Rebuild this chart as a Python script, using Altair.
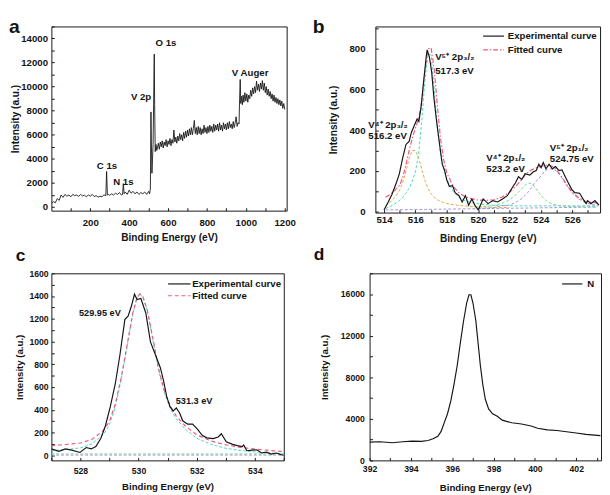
import altair as alt
import pandas as pd

FONT = "Liberation Sans"
INK = "#141414"
PINK = "#f0587a"
ORANGE = "#e4a640"
CYAN = "#43d9b8"
GREEN = "#74dc8c"
LAVENDER = "#a48ee4"

# ---------------- (a) survey spectrum: (binding energy eV, intensity a.u.) ----------------
survey_points = [
    (0, 300), (10, 450), (20, 350), (30, 700), (40, 550), (50, 1000), (60, 800), (70, 1050), (80, 900), (90, 1000),
    (100, 850), (110, 1050), (120, 950), (130, 1000), (140, 880), (150, 1050), (160, 920), (170, 980), (180, 850), (190, 1000),
    (200, 900), (210, 1050), (220, 870), (230, 950), (240, 820), (250, 900), (260, 850), (270, 1000), (280, 950), (284, 2950),
    (288, 1000), (292, 1050), (300, 980), (310, 1100), (320, 1000), (330, 1150), (340, 1050), (350, 1200), (360, 1000), (366, 1050),
    (370, 1950), (374, 1100), (380, 1250), (390, 1050), (400, 1400), (410, 1150), (420, 1300), (430, 1100), (440, 1250), (450, 1050),
    (460, 1200), (470, 1100), (480, 1250), (490, 1050), (500, 1300), (505, 1100), (509, 1500), (512, 7900), (514, 5500), (517, 2800),
    (520, 4000), (523, 5200), (526, 9000), (529, 12700), (531, 8500), (534, 4600), (538, 5200), (542, 4700),
    (545, 4900), (550, 5300), (555, 4800), (560, 5400), (565, 5000), (570, 5500), (575, 4900), (580, 5400), (585, 5100), (590, 5600),
    (595, 5000), (600, 5500), (605, 5200), (610, 5700), (615, 5100), (620, 5600), (625, 5300), (630, 6400), (635, 5400), (640, 5800),
    (645, 5300), (650, 5900), (655, 5500), (660, 6100), (665, 5600), (670, 6000), (675, 5500), (680, 6200), (685, 5700), (690, 6300),
    (695, 5800), (700, 6400), (705, 5900), (710, 6500), (715, 6000), (720, 6600), (725, 6000), (730, 6500), (735, 7200), (740, 6100),
    (745, 6600), (750, 6000), (755, 6700), (760, 6100), (765, 6600), (770, 6000), (775, 6500), (780, 6100), (785, 6800), (790, 6200),
    (795, 6600), (800, 6100), (805, 6700), (810, 6200), (815, 6800), (820, 6300), (825, 6700), (830, 6200), (835, 6900), (840, 6300),
    (845, 6800), (850, 6400), (855, 6900), (860, 6300), (865, 7000), (870, 6400), (875, 6800), (880, 6300), (885, 7000), (890, 6500),
    (895, 6900), (900, 6400), (905, 7000), (910, 6500), (915, 7100), (920, 6600), (925, 6900), (930, 6500), (935, 7100), (940, 6600),
    (945, 7000), (950, 7500), (955, 6700), (960, 7000), (965, 6900), (968, 9000), (971, 10600), (974, 8600), (978, 9200), (982, 8500),
    (986, 9300), (990, 8700), (995, 9500), (1000, 8800), (1005, 9400), (1010, 8700), (1015, 9300), (1020, 9000), (1025, 9700), (1030, 9200),
    (1035, 9900), (1040, 9400), (1045, 10000), (1050, 9500), (1055, 10450), (1060, 9700), (1065, 10200), (1070, 9600), (1075, 10300), (1080, 9800),
    (1085, 10500), (1090, 9700), (1095, 10300), (1100, 9500), (1105, 10000), (1110, 9300), (1115, 9800), (1120, 9200), (1125, 9600), (1130, 9000),
    (1135, 9400), (1140, 8800), (1145, 9300), (1150, 8700), (1155, 9100), (1160, 8600), (1165, 9000), (1170, 8500), (1175, 8900), (1180, 8400),
    (1185, 8800), (1190, 8200), (1195, 8600), (1200, 8100),
]
survey_label_text = ["O 1s", "V 2p", "V Auger", "C 1s", "N 1s"]
survey_label_energy = [589, 461, 1022, 286, 370]
survey_label_intensity = [13600, 9160, 11140, 3360, 2080]

# ---------------- (b) V 2p ----------------
v2p_experimental = [
    (514.0, 8), (514.27, 47), (514.51, 85), (514.78, 140), (514.98, 186), (515.19, 264), (515.4, 330), (515.6, 345),
    (515.75, 390), (515.91, 419), (516.11, 455), (516.22, 443), (516.36, 512), (516.52, 637), (516.69, 761), (516.75, 795),
    (516.89, 761), (517.04, 684), (517.18, 559), (517.34, 451), (517.55, 326), (517.71, 233), (517.86, 202), (518.0, 155),
    (518.16, 124), (518.37, 127), (518.53, 93), (518.78, 78), (518.98, 47), (519.19, 78), (519.39, 31), (519.6, 62),
    (519.81, 28), (520.01, 8), (520.32, 62), (520.63, 39), (520.93, 54), (521.24, 47), (521.55, 62), (521.86, 78),
    (522.16, 116), (522.37, 140), (522.57, 171), (522.78, 158), (522.99, 186), (523.29, 179), (523.5, 194), (523.7, 202),
    (523.87, 233), (524.01, 215), (524.15, 241), (524.32, 210), (524.52, 233), (524.73, 210), (524.93, 221), (525.14, 202),
    (525.34, 205), (525.55, 171), (525.75, 140), (525.96, 109), (526.16, 93), (526.47, 90), (526.68, 62), (526.88, 39),
    (526.98, 54), (527.19, 39), (527.44, 54), (527.7, 31),
]
v2p_grid = [514.1, 514.4, 514.7, 515.0, 515.2, 515.4, 515.6, 515.8, 516.0, 516.2,
            516.4, 516.6, 516.8, 517.0, 517.2, 517.4, 517.6, 517.8, 518.0, 518.4,
            518.8, 519.2, 519.6, 520.0, 520.5, 521.0, 521.5, 522.0, 522.4, 522.8,
            523.0, 523.2, 523.4, 523.6, 523.8, 524.0, 524.2, 524.4, 524.6, 524.8,
            525.0, 525.2, 525.4, 525.6, 525.8, 526.0, 526.4, 526.8, 527.2, 527.6]
v2p_fitted = [70, 85, 105, 130, 170, 230, 300, 360, 410, 455,
              540, 690, 800, 805, 700, 520, 360, 255, 190, 125,
              90, 72, 62, 57, 55, 58, 70, 95, 125, 160,
              180, 195, 205, 212, 218, 222, 226, 228, 226, 220,
              205, 185, 162, 138, 115, 95, 68, 52, 45, 42]
v4_2p32 = [30, 45, 70, 105, 145, 200, 260, 300, 300, 265,
           210, 155, 115, 88, 70, 58, 50, 44, 40, 34,
           30, 27, 25, 23, 22, 21, 20, 20]                      # on v2p_grid[:28]
v5_2p32 = [15, 25, 38, 55, 70, 90, 115, 150, 195, 280,
           440, 640, 775, 770, 600, 410, 280, 215, 160, 100,
           68, 52, 44, 38, 34, 31, 30, 29, 28, 28,
           28, 28, 28, 28, 28, 28, 28, 28, 28, 28,
           28, 28, 28, 28, 28, 28, 28, 28, 28, 28]               # on v2p_grid
v4_2p12 = [22, 25, 30, 40, 58, 82, 115, 130, 140, 137,
           122, 100, 80, 63, 50, 42, 36, 32, 29, 27,
           26, 25, 25, 24, 24, 23, 23]                           # on v2p_grid[23:]
v5_2p12 = [14, 16, 20, 28, 32, 45, 65, 80, 97, 118,
           140, 158, 175, 196, 206, 210, 208, 198, 180, 158,
           133, 110, 90, 62, 45, 35, 30]                         # on v2p_grid[23:]
v2p_base_energy = [514.1, 527.6]
v2p_base_intensity = [8, 22]
v2p_label_text = ["V⁵⁺ 2p₃/₂", "517.3 eV", "V⁴⁺ 2p₃/₂", "516.2 eV",
                  "V⁴⁺ 2p₁/₂", "523.2 eV", "V⁵⁺ 2p₁/₂", "524.75 eV"]
v2p_label_energy = [517.26, 517.26, 513.0, 513.0, 520.52, 520.52, 524.57, 524.57]
v2p_label_intensity = [761, 691, 427, 373, 264, 210, 314, 256]

# ---------------- (c) O 1s ----------------
o1s_experimental = [
    (527.0, 56), (527.26, 34), (527.48, 56), (527.7, 45), (527.98, 25), (528.2, 68), (528.37, 56), (528.53, 76),
    (528.7, 147), (528.86, 260), (529.03, 430), (529.2, 629), (529.36, 884), (529.53, 1195), (529.64, 1223), (529.75, 1308),
    (529.86, 1416), (529.95, 1370), (530.08, 1379), (530.25, 1251), (530.41, 997), (530.58, 884), (530.75, 770), (530.86, 657),
    (530.97, 515), (531.08, 430), (531.19, 388), (531.3, 416), (531.41, 374), (531.52, 303), (531.69, 274), (531.86, 274),
    (532.02, 232), (532.19, 175), (532.35, 153), (532.57, 147), (532.74, 161), (532.85, 189), (533.02, 119), (533.24, 96),
    (533.4, 85), (533.57, 76), (533.62, 90), (533.73, 40), (533.9, 45), (534.07, 48), (534.24, 20), (534.4, 28),
    (534.57, 11), (534.74, 20), (534.9, 6), (535.0, 0),
]
o1s_grid = [527.0, 527.5, 528.0, 528.4, 528.8, 529.0, 529.2, 529.4, 529.6, 529.8,
            529.95, 530.05, 530.15, 530.3, 530.5, 530.7, 530.9, 531.1, 531.3, 531.6,
            532.0, 532.5, 533.0, 533.5, 534.0, 534.5, 535.0]
o1s_fitted = [85, 95, 108, 140, 220, 300, 450, 680, 960, 1250,
              1390, 1420, 1395, 1280, 1020, 750, 560, 430, 345, 260,
              180, 125, 92, 70, 55, 42, 32]
o1s_component = [40, 50, 65, 100, 185, 270, 425, 660, 945, 1240,
                 1385, 1415, 1390, 1270, 1005, 735, 540, 405, 320, 232,
                 150, 95, 62, 42, 30, 20, 14]
o1s_base_energy = [527.0, 535.0]
o1s_base_green = [12, 12]
o1s_base_lavender = [2, 2]
o1s_label_text = ["529.95 eV", "531.3 eV"]
o1s_label_energy = [528.67, 531.91]
o1s_label_intensity = [1251, 472]

# ---------------- (d) N 1s ----------------
n1s_points = [
    (392.0, 1764), (392.5, 1795), (393.1, 1702), (393.6, 1795), (394.06, 1857), (394.5, 1826), (394.83, 1919),
    (395.07, 2074), (395.3, 2321), (395.46, 2786), (395.6, 3559), (395.77, 4488), (395.93, 5726), (396.08, 7273),
    (396.24, 9130), (396.39, 11297), (396.55, 13463), (396.7, 15166), (396.81, 15939), (396.9, 15939), (397.0, 15166),
    (397.14, 13463), (397.25, 11297), (397.36, 9130), (397.48, 7273), (397.6, 5880), (397.76, 4952), (397.95, 4488),
    (398.18, 4240), (398.42, 3869), (398.88, 3621), (399.35, 3497), (399.82, 3312), (400.13, 3095), (400.6, 2940),
    (401.07, 2878), (401.53, 2754), (402.0, 2631), (402.47, 2507), (403.17, 2383),
]

# ---------------- helpers ----------------
ONE = pd.DataFrame({"k": [0]})


def axis(values, every, title, lab_size, title_size, lab_pad, title_pad):
    return alt.Axis(values=values, labelExpr=f"datum.value % {every} == 0 ? datum.label : ''",
                    format="d", title=title, tickSize=3, offset=-3, domain=False, grid=False,
                    tickColor=INK, labelColor=INK, titleColor=INK, labelFont=FONT, titleFont=FONT,
                    labelFontWeight="bold", titleFontWeight="bold", labelFontSize=lab_size,
                    titleFontSize=title_size, labelPadding=lab_pad, titlePadding=title_pad,
                    labelFlush=False, labelOverlap=False)


def encodings(xdom, ydom, xvals, xevery, yvals, yevery, lab, ttl, xp, xtp, yp, ytp):
    x = alt.X("E:Q", scale=alt.Scale(domain=xdom, nice=False, zero=False),
              axis=axis(xvals, xevery, "Binding Energy (eV)", lab, ttl, xp, xtp))
    y = alt.Y("I:Q", scale=alt.Scale(domain=ydom, nice=False, zero=False),
              axis=axis(yvals, yevery, "Intensity (a.u.)", lab, ttl, yp, ytp))
    return x, y


def curve(df, x, y, color, width=1.0, dash=None):
    kw = dict(color=color, strokeWidth=width, clip=True)
    if dash:
        kw["strokeDash"] = dash
    return alt.Chart(df).mark_line(**kw).encode(x=x, y=y)


def pts(points):
    return pd.DataFrame(points, columns=["E", "I"])


def cols(e, i):
    return pd.DataFrame({"E": e, "I": i})


def labels(texts, e, i, x, y, size, align="center"):
    df = pd.DataFrame({"t": texts, "E": e, "I": i})
    return alt.Chart(df).mark_text(font=FONT, fontSize=size, fontWeight="bold", align=align,
                                   baseline="middle", color=INK).encode(x=x, y=y, text="t:N")


def rule_px(x1, x2, yy, color, dash=None, width=1.2):
    kw = dict(color=color, strokeWidth=width)
    if dash:
        kw["strokeDash"] = dash
    return alt.Chart(ONE).mark_rule(**kw).encode(x=alt.value(x1), x2=alt.value(x2), y=alt.value(yy))


def text_px(s, xx, yy, size, baseline="middle"):
    return alt.Chart(ONE).mark_text(text=s, font=FONT, fontSize=size, fontWeight="bold", align="left",
                                    baseline=baseline, color=INK).encode(x=alt.value(xx), y=alt.value(yy))


# ---------------- panel a ----------------
xa, ya = encodings([0, 1210], [-300, 15000], list(range(100, 1201, 100)), 200,
                   list(range(0, 15001, 1000)), 2000, 10, 10.5, 7, 6, 4, 0)
panel_a = alt.layer(
    curve(pts(survey_points), xa, ya, INK, 0.9),
    labels(survey_label_text, survey_label_energy, survey_label_intensity, xa, ya, 10),
    text_px("a", -44, -9, 20, "top"),
).properties(width=244, height=191)

# ---------------- panel b ----------------
xb, yb = encodings([513.45, 527.77], [-5, 910], list(range(514, 528)), 2,
                   list(range(0, 901, 100)), 200, 10, 10.5, 2.5, 9.4, 10.7, 11)
panel_b = alt.layer(
    curve(cols(v2p_base_energy, v2p_base_intensity), xb, yb, LAVENDER, 1.0, [3, 2]),
    curve(cols(v2p_grid[:28], v4_2p32), xb, yb, ORANGE, 1.0, [3, 2]),
    curve(cols(v2p_grid, v5_2p32), xb, yb, CYAN, 1.0, [3, 2]),
    curve(cols(v2p_grid[23:], v4_2p12), xb, yb, GREEN, 1.0, [3, 2]),
    curve(cols(v2p_grid[23:], v5_2p12), xb, yb, LAVENDER, 1.0, [3, 2]),
    curve(cols(v2p_grid, v2p_fitted), xb, yb, PINK, 1.2, [5, 2, 1.5, 2]),
    curve(pts(v2p_experimental), xb, yb, INK, 1.2),
    labels(v2p_label_text, v2p_label_energy, v2p_label_intensity, xb, yb, 10, "left"),
    rule_px(111.7, 133.3, 10, INK),
    text_px("Experimental curve", 137.3, 10, 10),
    rule_px(111.7, 133.3, 24.3, PINK, [5, 2, 1.5, 2]),
    text_px("Fitted curve", 137.3, 24.3, 10),
    text_px("b", -65, -9, 20, "top"),
).properties(width=233, height=193)

# ---------------- panel c ----------------
xc, yc = encodings([527, 535], [-45, 1600], list(range(527, 536)), 2,
                   list(range(0, 1601, 100)), 200, 9, 10, 7, 6, 3.3, 5)
panel_c = alt.layer(
    curve(cols(o1s_base_energy, o1s_base_green), xc, yc, GREEN, 1.0, [3, 2]),
    curve(cols(o1s_base_energy, o1s_base_lavender), xc, yc, LAVENDER, 1.0, [3, 2]),
    curve(cols(o1s_grid, o1s_component), xc, yc, CYAN, 1.0, [3, 2]),
    curve(cols(o1s_grid, o1s_fitted), xc, yc, PINK, 1.2, [4, 3]),
    curve(pts(o1s_experimental), xc, yc, INK, 1.2),
    labels(o1s_label_text, o1s_label_energy, o1s_label_intensity, xc, yc, 9.5),
    rule_px(121, 144.3, 11, INK),
    text_px("Experimental curve", 146, 11, 10),
    rule_px(121, 144.3, 23.3, PINK, [4, 3]),
    text_px("Fitted curve", 146, 23.3, 10),
    text_px("c", -37, -27, 18, "top"),
).properties(width=241, height=194)

# ---------------- panel d ----------------
xd, yd = encodings([392, 403.2], [0, 18000], list(range(392, 404)), 2,
                   list(range(0, 18001, 2000)), 4000, 9, 10, 4.5, 9.4, 5.4, 11.2)
panel_d = alt.layer(
    curve(pts(n1s_points), xd, yd, INK, 1.2),
    rule_px(199.6, 220.6, 11, INK),
    text_px("N", 225.6, 11, 10),
    text_px("d", -58, -28, 18, "top"),
).properties(width=240, height=194)

row1 = alt.hconcat(panel_a, panel_b, spacing=16)
row2 = alt.hconcat(panel_c, panel_d, spacing=29)
chart = alt.vconcat(row1, row2, spacing=1).properties(
    padding=0, background="white"
).configure_view(stroke=INK, strokeWidth=1)

chart.save("out.html", embed_options={"renderer": "svg", "actions": False})
